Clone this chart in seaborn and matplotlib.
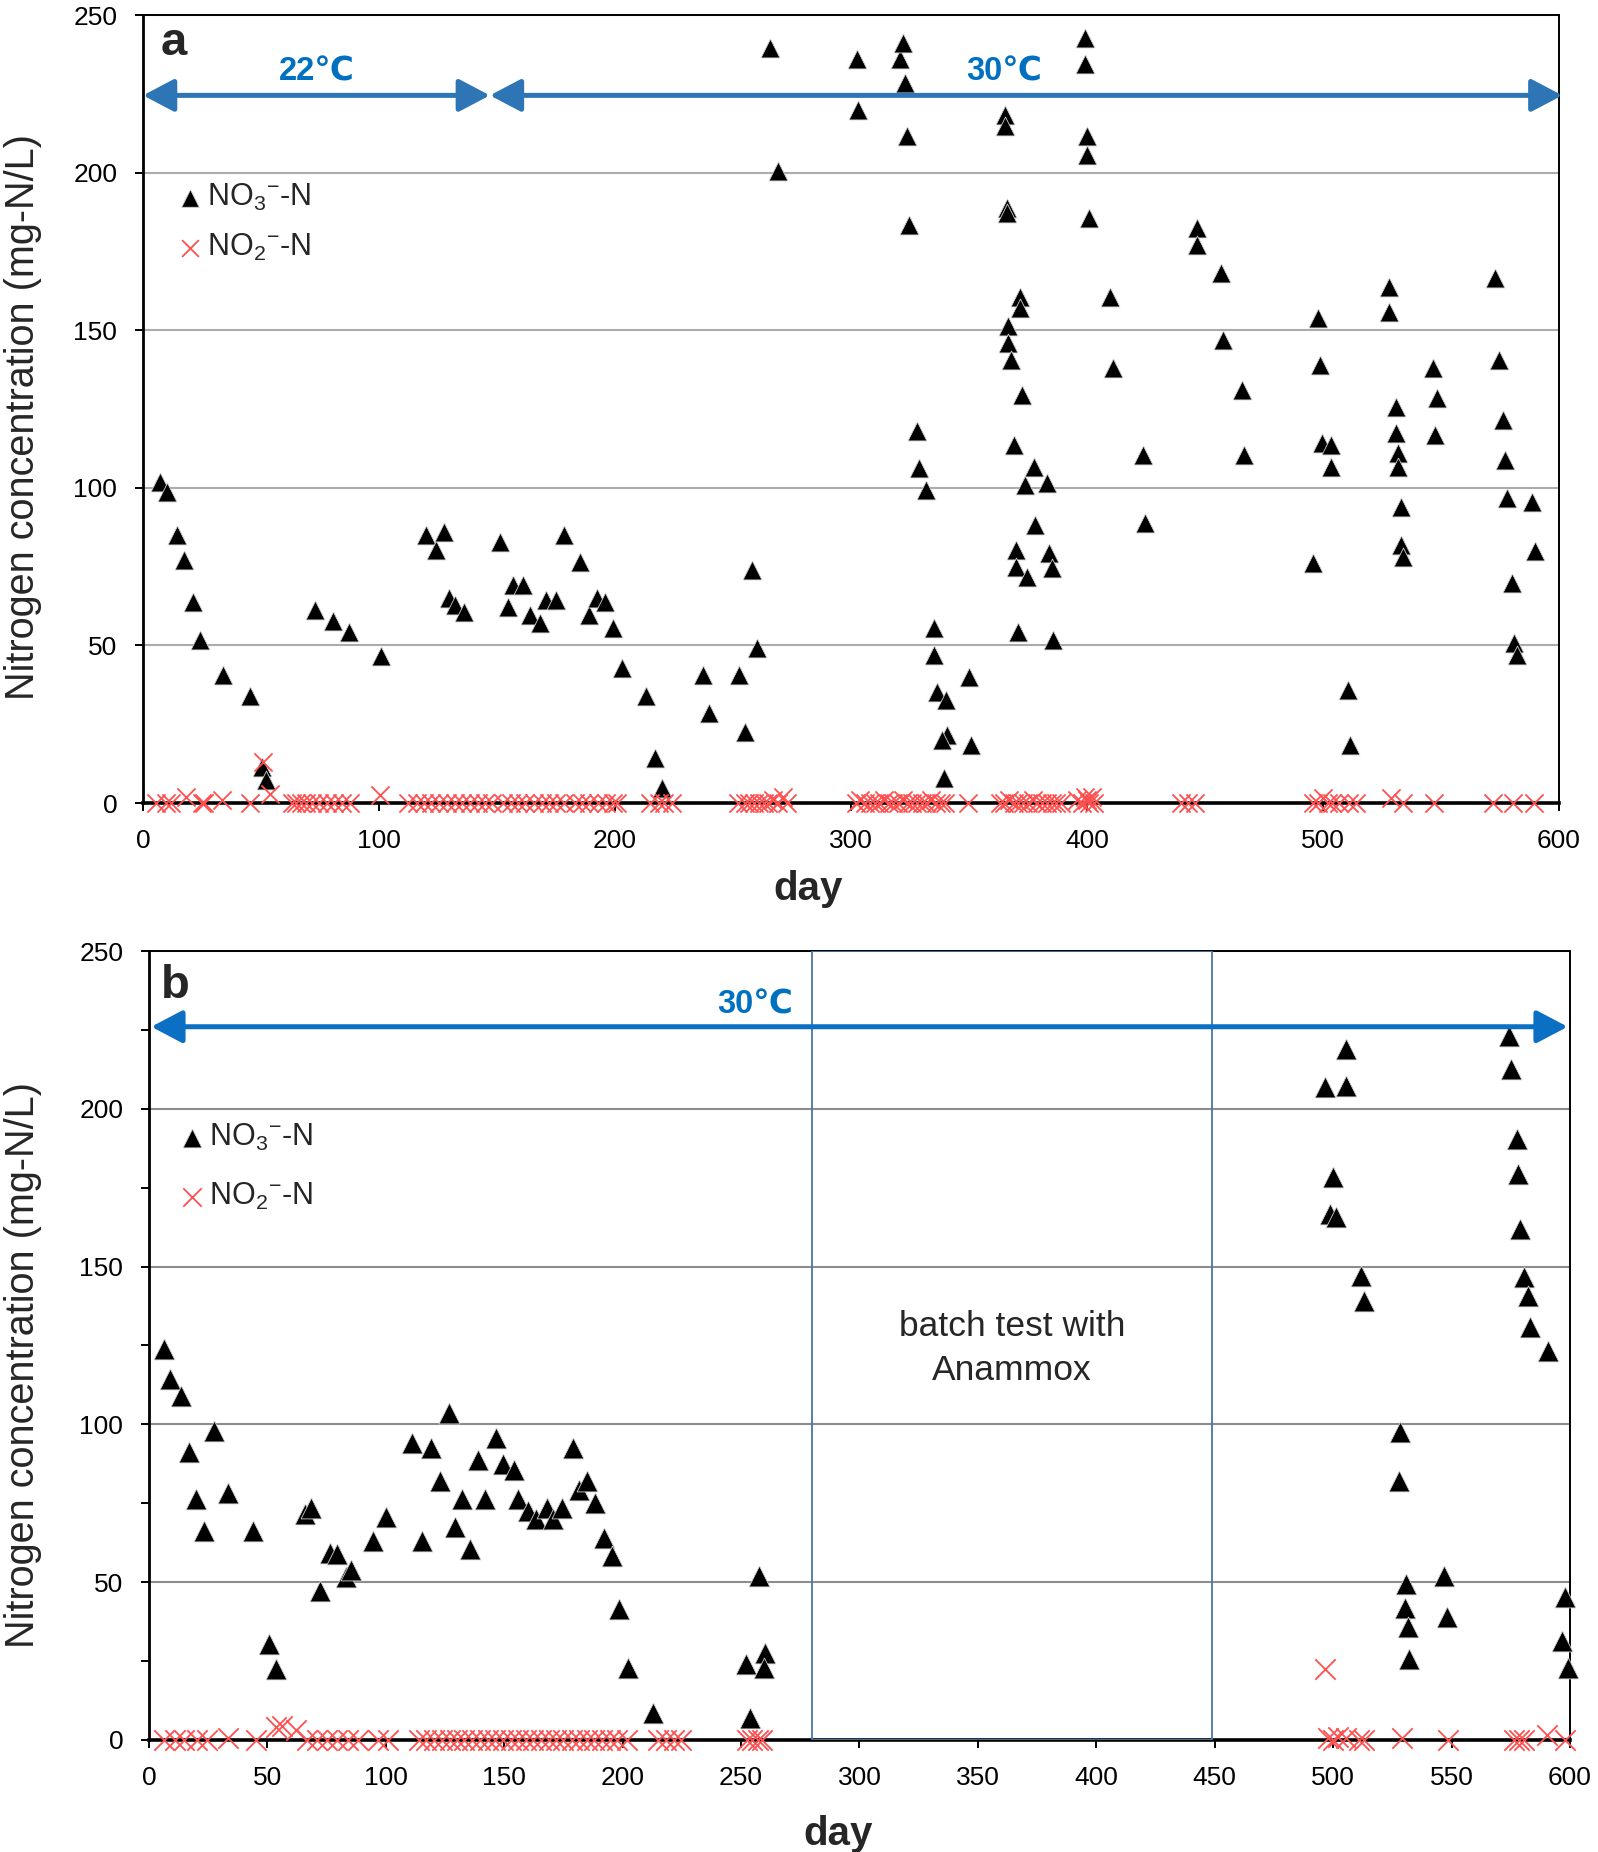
import matplotlib
matplotlib.use("Agg")
import matplotlib.pyplot as plt
import seaborn as sns
import pandas as pd
from matplotlib.patches import Rectangle

# ---------------- panel a data ----------------
a_no3_day = [7, 10.3, 14.5, 17.3, 21, 24, 34, 45.3, 50.3, 52.2, 73, 80.3, 87.4, 101,
             119.8, 124.2, 127.4, 129.6, 132.4, 136, 151.2, 154.8, 156.6, 160.9, 164.2,
             168.4, 170.6, 174.9, 178.3, 185, 188.9, 192.2, 195.8, 199.1, 203, 213.3, 217,
             219.8, 237.5, 239.8, 252.7, 254.9, 258.1, 260.2, 265.7, 268.9,
             302.5, 303, 320.7, 322, 323, 323.8, 324.6, 327.9, 329, 331.8, 335.4, 335.4,
             336.5, 340.2, 340.8, 338.6, 339.3, 350, 351,
             365.2, 365.2, 366.1, 366.1, 366.7, 366.7, 367.8, 368.9, 370, 370, 371,
             371.7, 371.7, 372.7, 373.9, 374.7, 377.5, 378, 382.9, 384, 385, 385.7,
             399.1, 399.1, 400.2, 400.2, 400.9, 409.9, 411, 423.9, 424.6,
             446.7, 446.7, 456.8, 457.5, 465.9, 466.7,
             498, 498.9, 495.7, 499.5, 503.4, 503.4, 510.8, 511.6,
             528, 528, 531.1, 531.1, 532, 532, 533.3, 533.3, 534, 546.7, 548.3, 547.6,
             573, 574.5, 576.2, 577.1, 578, 580.2, 581.2, 582.1, 588.8, 589.9]
a_no3_val = [102, 98.8, 85.1, 77.2, 63.9, 51.8, 40.6, 33.8, 11.5, 7.3, 61.3, 57.6, 54.4, 46.5,
             85.1, 80.3, 86.1, 65, 62.8, 60.7, 82.9, 62.3, 69.2, 69.2, 59.7,
             57, 64.5, 64.5, 85.1, 76.6, 59.7, 65, 63.9, 55.5, 42.8, 33.8, 14.3,
             4.7, 40.6, 28.5, 40.6, 22.6, 74, 49.1, 239.6, 200.4,
             236, 220, 236, 241, 228.5, 211.5, 183.5, 117.9, 106.3, 99.4, 55.5, 47,
             35.3, 32.7, 21.6, 20, 7.9, 40.1, 18.4,
             218.4, 214.7, 188.9, 187.2, 151.2, 145.9, 140.6, 113.6, 80.3, 75, 54.4,
             160.6, 157, 129.5, 100.9, 71.8, 106.6, 88.2, 101.5, 79.3, 74.5, 51.8,
             242.7, 234.3, 211.5, 205.7, 185.6, 160.6, 138, 110.5, 88.8,
             182.3, 177, 168.1, 147, 131.1, 110.5,
             153.9, 139, 76.1, 114.2, 113.6, 106.7, 35.9, 18.4,
             163.8, 155.9, 125.7, 117.3, 111, 106.7, 94, 81.9, 78.2, 138, 128.4, 116.8,
             166.6, 140.6, 121.6, 108.9, 96.7, 69.7, 50.7, 47, 95.6, 79.8]

a_no2_day = [5.4, 9.7, 12, 18.4, 25, 26, 33.5, 45.5, 51, 54, 63, 65, 67, 69, 71.4, 74.7,
             78, 81, 84.4, 87.7, 100.6, 112.5, 116, 119, 122, 125.5, 129, 132, 135,
             138.5, 142, 145, 148, 152.6, 156, 159, 162, 165.6, 169, 172, 175, 178.6,
             183, 186, 189, 192.6, 196, 199, 201, 215, 218.6, 220.8, 224,
             252, 255, 257, 259, 261, 263, 265, 267, 269, 271, 273,
             302, 304, 306, 308, 310, 312, 314, 316, 318, 320, 322, 324, 326, 328, 330,
             332, 334, 336, 338, 340, 349.5,
             363, 365, 367, 369, 371, 373, 375, 377, 379, 381, 383, 385, 387, 389,
             396, 398, 399, 400, 401, 402, 403, 440, 443, 446,
             496, 498, 500, 502, 504, 507, 511, 514, 529, 534, 547, 572, 580.5, 589.5]
a_no2_val = [0, 0, 0, 2, 0, 0, 1, 0, 13, 3, 0, 0, 0, 0, 0, 0,
             0, 0, 0, 0, 2.5, 0, 0, 0, 0, 0, 0, 0, 0,
             0, 0, 0, 0, 0, 0, 0, 0, 0, 0, 0, 0, 0,
             0, 0, 0, 0, 0, 0, 0, 0, 0, 0, 0,
             0, 0, 0, 0, 0, 0, 0, 1, 0, 2, 0,
             0, 1, 0, 0, 0, 0, 1, 0, 0, 0, 1, 0, 0, 0, 0,
             0, 1, 0, 0, 0, 0,
             0, 0, 1, 0, 0, 0, 0, 1, 0, 0, 0, 0, 0, 0,
             1, 0, 2, 1, 0, 2, 0, 0, 0, 0,
             0, 0, 1.5, 0, 0, 0, 0, 0, 1.5, 0, 0, 0, 0, 0]

# ---------------- panel b data ----------------
b_no3_day = [6.5, 9, 13.5, 17, 20, 23.4, 27.4, 33.4, 43.9, 50.8, 53.8, 65.8, 68.3, 72.3,
             76.3, 79.3, 83.3, 85.2, 94.7, 100.2, 111.2, 115.2, 119.1, 123.1, 126.6,
             129.1, 132.1, 135.6, 139.1, 142.1, 146.6, 149.6, 154, 156, 160, 163.5, 168,
             170.5, 174.5, 179, 181.5, 185, 188.4, 192, 195.4, 198.4, 202.4, 212.9,
             252.2, 253.7, 257.7, 260.2, 259.7,
             496.7, 498.8, 500, 501, 505.3, 505.3, 511.7, 512.9, 528.4, 527.9, 530.9,
             530.4, 531.4, 531.9, 546.9, 547.9,
             574.2, 574.9, 577.4, 578.1, 579, 580.7, 582.2, 583.2, 590.8, 597.7, 596.7,
             599.2]
b_no3_val = [124, 114.5, 109, 91.3, 76.3, 66.2, 98, 78.2, 66.2, 30.3, 22.5, 71.5, 73.4, 47.2,
             59.1, 58.8, 51.6, 53.9, 62.9, 70.7, 94, 63.2, 92.4, 82, 103.7,
             67.4, 76.3, 60.6, 88.7, 76.3, 95.8, 87.6, 85.7, 76.3, 72.6, 70, 73.4,
             70, 73.4, 92.4, 79.3, 82, 75.2, 64, 58.4, 41.5, 22.8, 8.6,
             24, 7.1, 52, 27.7, 22.8,
             206.8, 166.6, 178.3, 165.6, 219, 207.3, 147, 139.2, 97.7, 82, 49.4,
             41.9, 35.9, 25.8, 52, 38.9,
             223, 212.6, 190.4, 179.3, 161.9, 146.6, 140.7, 130.7, 123.3, 45.3, 31.4,
             22.8]

b_no2_day = [6.5, 10.8, 15, 20.4, 24.7, 33.3, 45, 53.8, 56.3, 62, 66.7, 71, 75.3, 79.6,
             83.9, 88.2, 96.8, 101, 114, 117, 120.4, 123.7, 127, 130, 133, 136.6, 139.8,
             143, 146, 149.5, 152.7, 156, 159, 162, 165.6, 168.8, 172, 175, 178.5, 181.7,
             185, 188, 191.4, 194.6, 197.8, 202, 215, 218.3, 221.5, 224.7,
             252.7, 254.8, 257, 259,
             496.7, 498, 500, 502, 505.3, 510.7, 512.8, 529, 548.4, 576.4, 578.6, 580.7,
             590.4, 597.9]
b_no2_val = [0, 0, 0, 0, 0, 0.5, 0, 4, 4.5, 3, 0, 0, 0, 0,
             0, 0, 0, 0, 0, 0, 0, 0, 0, 0, 0, 0, 0,
             0, 0, 0, 0, 0, 0, 0, 0, 0, 0, 0, 0, 0,
             0, 0, 0, 0, 0, 0, 0, 0, 0, 0,
             0, 0, 0, 0,
             22.5, 0.5, 0, 1, 0.5, 0, 0, 0.5, 0, 0, 0, 0,
             1.5, 0]

# temperature phases: (start day, end day, label, label day)
phases_a = [(0, 147, "22\u2103", 73.5), (147, 601.5, "30\u2103", 365)]
phases_b = [(1, 599, "30\u2103", 256)]
batch_period = (280, 449)

NO3_LABEL = "NO$_3$$^{-}$-N"
NO2_LABEL = "NO$_2$$^{-}$-N"

sns.set_style("white")
plt.rcParams["font.family"] = ["Liberation Sans", "DejaVu Sans"]
plt.rcParams["mathtext.fontset"] = "custom"
plt.rcParams["mathtext.rm"] = "Liberation Sans"
plt.rcParams["mathtext.it"] = "Liberation Sans:italic"

fig = plt.figure(figsize=(15.98, 18.52), dpi=100)
ax_a = fig.add_axes([0.0895, 0.5664, 0.886, 0.4255])
ax_b = fig.add_axes([0.0932, 0.0605, 0.8893, 0.426])


def draw_panel(ax, no3_day, no3_val, no2_day, no2_val, tri_s, x_s, grid_color):
    df3 = pd.DataFrame({"day": no3_day, "conc": no3_val})
    df2 = pd.DataFrame({"day": no2_day, "conc": no2_val})
    sns.scatterplot(data=df3, x="day", y="conc", ax=ax, marker="^", s=tri_s,
                    color="black", edgecolor="#d0d0d0", linewidth=0.6,
                    label=NO3_LABEL, clip_on=False, zorder=4)
    sns.scatterplot(data=df2, x="day", y="conc", ax=ax, marker="x", s=x_s,
                    color="#ff5050", linewidth=1.3,
                    label=NO2_LABEL, clip_on=False, zorder=5)
    ax.set_xlim(0, 600)
    ax.set_ylim(0, 250)
    ax.set_yticks([0, 50, 100, 150, 200, 250])
    ax.yaxis.grid(True, color=grid_color, linewidth=1.5)
    ax.xaxis.grid(False)
    ax.set_axisbelow(True)
    for side in ["top", "right", "left", "bottom"]:
        ax.spines[side].set_visible(True)
        ax.spines[side].set_color("black")
    ax.spines["top"].set_linewidth(1.4)
    ax.spines["right"].set_linewidth(1.4)
    ax.spines["left"].set_linewidth(2.0)
    ax.spines["bottom"].set_linewidth(2.6)
    ax.tick_params(axis="both", which="both", direction="out", length=5.5,
                   width=1.4, labelsize=19, colors="black", left=True, bottom=True)
    ax.tick_params(axis="x", pad=13)
    ax.tick_params(axis="y", pad=13)
    ax.set_ylabel("Nitrogen concentration (mg-N/L)", fontsize=28.5)
    ax.set_xlabel("day", fontsize=29, fontweight="bold")


def draw_phases(ax, phases, y_arrow, y_text, color):
    for start, end, label, tx in phases:
        ax.annotate("", xy=(end, y_arrow), xytext=(start, y_arrow),
                    arrowprops=dict(arrowstyle="<|-|>,head_length=0.95,head_width=0.5",
                                    mutation_scale=20, lw=3.6, color=color,
                                    shrinkA=0, shrinkB=0),
                    annotation_clip=False, zorder=6)
        ax.text(tx, y_text, label, color="#0070c0", fontsize=23.5,
                fontweight="bold", ha="center", va="center")


# ---- panel a ----
draw_panel(ax_a, a_no3_day, a_no3_val, a_no2_day, a_no2_val, 185, 170, "#ababab")
ax_a.set_xticks(range(0, 601, 100))
draw_phases(ax_a, phases_a, 224.5, 232, "#2e75b6")
ax_a.text(13, 241, "a", fontsize=34, fontweight="bold", ha="center", va="center")
ax_a.legend(loc="upper left", bbox_to_anchor=(0.0138, 0.804), frameon=False,
            fontsize=22, handlelength=1.0, handletextpad=0.05, labelspacing=0.62,
            markerscale=0.93, borderaxespad=0)
ax_a.xaxis.set_label_coords(0.47, -0.085)
ax_a.yaxis.set_label_coords(-0.0715, 0.49)

# ---- panel b ----
draw_panel(ax_b, b_no3_day, b_no3_val, b_no2_day, b_no2_val, 225, 215, "#8c8c8c")
ax_b.set_xticks(range(0, 601, 50))
ax_b.set_yticks(range(25, 250, 50), minor=True)
ax_b.add_patch(Rectangle((batch_period[0], 0), batch_period[1] - batch_period[0], 250,
                         fill=False, edgecolor="#4a76a8", linewidth=1.3, zorder=3))
ax_b.text(sum(batch_period) / 2, 124, "batch test with\nAnammox", fontsize=25.5,
          ha="center", va="center", linespacing=1.4)
draw_phases(ax_b, phases_b, 226, 233, "#0b6fc4")
ax_b.text(11, 239, "b", fontsize=34, fontweight="bold", ha="center", va="center")
ax_b.legend(loc="upper left", bbox_to_anchor=(0.0109, 0.7985), frameon=False,
            fontsize=22, handlelength=1.0, handletextpad=0.05, labelspacing=0.9,
            markerscale=0.9, borderaxespad=0)
ax_b.xaxis.set_label_coords(0.485, -0.095)
ax_b.yaxis.set_label_coords(-0.0755, 0.475)

fig.savefig("out.png", dpi=100)
